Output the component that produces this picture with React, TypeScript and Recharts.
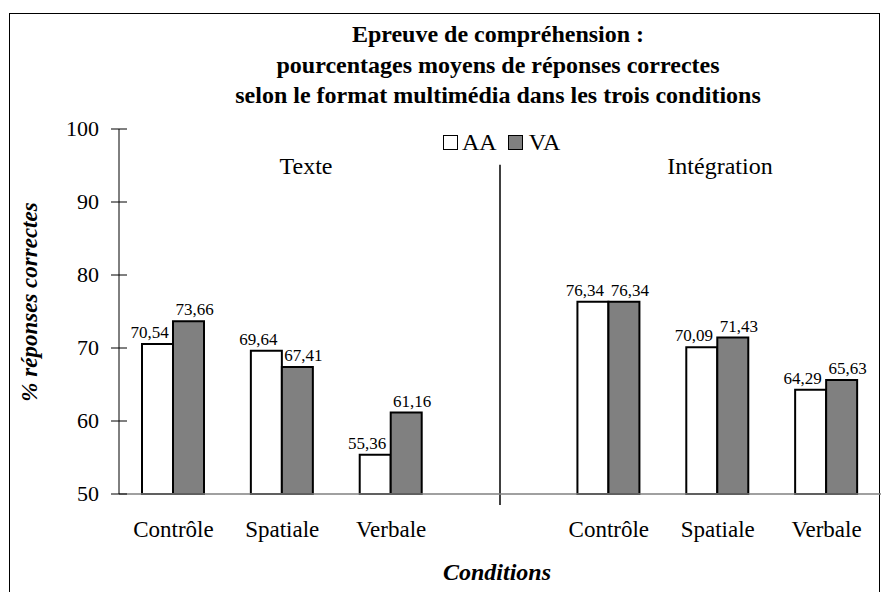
import { BarChart, Bar, XAxis, YAxis, Legend, LabelList, ReferenceLine } from 'recharts'

// ─── Data ────────────────────────────────────────────────────────────────────

const categories = ['Contrôle', 'Spatiale', 'Verbale', '', 'Contrôle', 'Spatiale', 'Verbale']
const aaValues = [70.54, 69.64, 55.36, null, 76.34, 70.09, 64.29]
const vaValues = [73.66, 67.41, 61.16, null, 76.34, 71.43, 65.63]
const yTicks = [50, 60, 70, 80, 90, 100]
const groupLabels = ['Texte', 'Intégration']
const titleLines = [
  'Epreuve de compréhension :',
  'pourcentages moyens de réponses correctes',
  'selon le format multimédia dans les trois conditions',
]

const data = categories.map((label, i) => ({
  key: `c${i}`,
  label,
  AA: aaValues[i],
  VA: vaValues[i],
}))

const FONT = 'Liberation Serif, Times New Roman, serif'
const GREY = '#808080'

const fmt = (v: number) => v.toFixed(2).replace('.', ',')

// ─── Custom pieces ───────────────────────────────────────────────────────────

function YTick({ y, payload }: any) {
  return (
    <g>
      <line x1={111} x2={127} y1={y} y2={y} stroke="#000" strokeWidth={1} />
      <text x={99} y={y} dy={7} textAnchor="end" fontSize={22} fontFamily={FONT} fill="#000">
        {payload.value}
      </text>
    </g>
  )
}

function XTick({ x, payload }: any) {
  return (
    <text x={x} y={537} textAnchor="middle" fontSize={23} fontFamily={FONT} fill="#000">
      {categories[payload.index]}
    </text>
  )
}

const valueLabel = (dx: number) => (props: any) => {
  const { x, y, width, value } = props
  if (value == null) return null
  return (
    <text
      x={x + width / 2 + dx}
      y={y - 6}
      textAnchor="middle"
      fontSize={17}
      fontFamily={FONT}
      fill="#000"
    >
      {fmt(value)}
    </text>
  )
}

function LegendContent() {
  const box = (fill: string) => (
    <span
      style={{
        display: 'inline-block',
        width: 13,
        height: 13,
        border: '1.5px solid #000',
        background: fill,
      }}
    />
  )
  return (
    <div style={{ display: 'flex', alignItems: 'center', fontFamily: FONT, fontSize: 24, lineHeight: '22px' }}>
      {box('#fff')}
      <span style={{ marginLeft: 4, marginRight: 11 }}>AA</span>
      {box(GREY)}
      <span style={{ marginLeft: 6 }}>VA</span>
    </div>
  )
}

// ─── Chart ───────────────────────────────────────────────────────────────────

export default function App() {
  return (
    <div style={{ position: 'absolute', left: 0, top: 0, width: 889, height: 592, overflow: 'hidden', background: '#fff' }}>
      <div
        style={{
          position: 'absolute',
          left: 9,
          top: 13,
          width: 871,
          height: 620,
          border: '1px solid #000',
          boxSizing: 'border-box',
        }}
      />
      <BarChart
        width={889}
        height={592}
        data={data}
        margin={{ top: 129, right: 8, bottom: 0, left: 0 }}
        barGap={0}
        barSize={31}
      >
        <XAxis
          dataKey="key"
          height={98}
          interval={0}
          tickLine={false}
          axisLine={{ stroke: GREY, strokeWidth: 1.5 }}
          tick={<XTick />}
        />
        <YAxis
          width={119}
          domain={[50, 100]}
          ticks={yTicks}
          interval={0}
          tickLine={false}
          axisLine={{ stroke: '#000', strokeWidth: 1 }}
          tick={<YTick />}
        />
        <Legend
          layout="horizontal"
          verticalAlign="middle"
          content={<LegendContent />}
          wrapperStyle={{ position: 'absolute', top: 131, left: 443, width: 'auto' }}
        />
        <ReferenceLine
          segment={[
            { x: 'c3', y: 95.1 },
            { x: 'c3', y: 48.5 },
          ]}
          ifOverflow="visible"
          stroke="#000"
          strokeWidth={1.5}
        />
        <Bar dataKey="AA" fill="#fff" stroke="#000" strokeWidth={2} isAnimationActive={false}>
          <LabelList dataKey="AA" content={valueLabel(-8)} />
        </Bar>
        <Bar dataKey="VA" fill={GREY} stroke="#000" strokeWidth={2} isAnimationActive={false}>
          <LabelList dataKey="VA" content={valueLabel(6)} />
        </Bar>
      </BarChart>
      <svg
        width={889}
        height={592}
        style={{ position: 'absolute', left: 0, top: 0, pointerEvents: 'none' }}
        fontFamily={FONT}
      >
        {titleLines.map((t, i) => (
          <text key={i} x={498} y={42 + i * 30.5} textAnchor="middle" fontSize={24} fontWeight="bold">
            {t}
          </text>
        ))}
        <text x={306} y={174} textAnchor="middle" fontSize={24}>
          {groupLabels[0]}
        </text>
        <text x={720} y={174} textAnchor="middle" fontSize={24}>
          {groupLabels[1]}
        </text>
        <text
          x={29}
          y={302}
          transform="rotate(-90, 29, 302)"
          textAnchor="middle"
          dominantBaseline="central"
          fontSize={23}
          fontWeight="bold"
          fontStyle="italic"
        >
          % réponses correctes
        </text>
        <text x={497} y={580} textAnchor="middle" fontSize={24} fontWeight="bold" fontStyle="italic">
          Conditions
        </text>
      </svg>
    </div>
  )
}
